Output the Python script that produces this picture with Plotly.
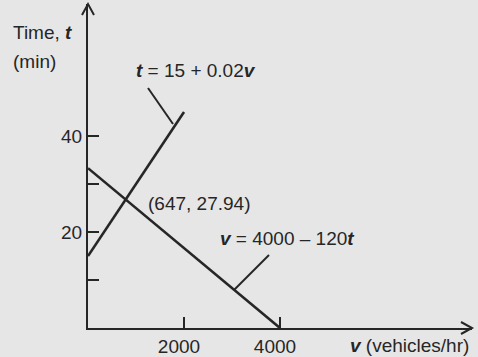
import plotly.graph_objects as go

# Data
line1_v = [0, 2000]          # t = 15 + 0.02v (as drawn)
line1_t = [15, 45]
line2_v = [0, 4000]          # v = 4000 - 120t
line2_t = [33.3, 0]
leader1_v = [1250, 1771]
leader1_t = [50, 42.5]
leader2_v = [3771, 3042]
leader2_t = [15.2, 7.9]
x_tick_vals = [2000, 4000]
x_tick_text = ["2000", "4000"]
y_tick_vals = [10, 20, 30, 40]
y_tick_text = ["", "20", "", "40"]

INK = "#262626"
BG = "#e6e6e6"
FONT = "Liberation Sans, Arial, Helvetica, sans-serif"
FS = 19

fig = go.Figure()
for vv, tt, w in [(line1_v, line1_t, 2.6), (line2_v, line2_t, 2.6),
                  (leader1_v, leader1_t, 2), (leader2_v, leader2_t, 2)]:
    fig.add_trace(go.Scatter(x=vv, y=tt, mode="lines",
                             line=dict(color=INK, width=w),
                             hoverinfo="skip", showlegend=False, cliponaxis=False))

def ann(x, y, text, ref="", xanchor="left"):
    fig.add_annotation(x=x, y=y, xref="paper" if ref else "x", yref="paper" if ref else "y",
                       text=text, showarrow=False,
                       xanchor=xanchor, yanchor="middle",
                       font=dict(family=FONT, size=FS, color=INK))

ann(-0.2, 0.9105, "Time, <b><i>t</i></b>", ref="p")
ann(-0.2, 0.821, "(min)", ref="p")
ann(958, 53.75, "<b><i>t</i></b> = 15 + 0.02<b><i>v</i></b>")
ann(1208, 26.0, "(647, 27.94)")
ann(2708, 18.75, "<b><i>v</i></b> = 4000 – 120<b><i>t</i></b>")
ann(0.677, -0.0525, "<b><i>v</i></b> (vehicles/hr)", ref="p")

# arrowheads (open chevrons) at ends of axes
fig.add_shape(type="path", xref="paper", yref="paper", xsizemode="pixel", ysizemode="pixel",
              xanchor=1, yanchor=0, path="M-11,-6 L0,0 L-11,6",
              line=dict(color=INK, width=2))
fig.add_shape(type="path", xref="paper", yref="paper", xsizemode="pixel", ysizemode="pixel",
              xanchor=0, yanchor=1, path="M-6,-11 L0,0 L6,-11",
              line=dict(color=INK, width=2))

axis_common = dict(showgrid=False, zeroline=False, showline=True, linecolor=INK,
                   linewidth=2, ticks="inside", ticklen=11, tickwidth=2, tickcolor=INK,
                   tickfont=dict(family=FONT, size=FS, color=INK), mirror=False,
                   automargin=False)
fig.update_xaxes(range=[0, 8000], tickmode="array", tickvals=x_tick_vals,
                 ticktext=x_tick_text, ticklabelshift=-5, ticklabelstandoff=0,
                 **axis_common)
fig.update_yaxes(range=[0, 67.5], tickmode="array", tickvals=y_tick_vals,
                 ticktext=y_tick_text, ticklabelstandoff=0, **axis_common)

fig.update_layout(width=478, height=357, margin=dict(l=88, r=6, t=4, b=29),
                  paper_bgcolor=BG, plot_bgcolor=BG, showlegend=False)
fig.write_html("out.html", config={"displayModeBar": False},
               post_script="document.body.style.margin='0';document.body.style.padding='0';"
                           "document.body.style.background='#e6e6e6';"
                           "document.body.style.overflow='hidden';")
